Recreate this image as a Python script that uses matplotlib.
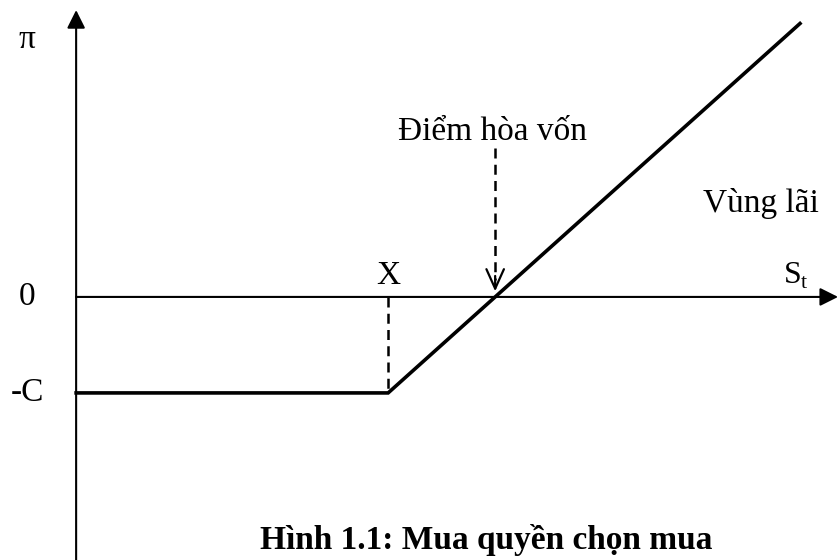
import numpy as np
import matplotlib
matplotlib.use("Agg")
from matplotlib import pyplot as plt

# payoff of a long call (drawing units)
strike = 10.0
premium = 3.43
s_max = 23.2
s_vals = [0.0, strike, s_max]
profit = [-premium, -premium, s_max - strike - premium]
breakeven = strike + premium

y_labels = ["0", "-C"]
y_label_vals = [0.0, -premium]

plt.rcParams['font.family'] = ['Liberation Serif', 'DejaVu Serif']

fig = plt.figure(figsize=(8.39, 5.6), dpi=100)
ax = fig.add_axes([0, 0, 1, 1])
ax.set_xlim(-2.44, 24.45)
ax.set_ylim(-9.40, 10.61)
ax.axis('off')

ahead = dict(arrowstyle='-|>,head_length=1.0,head_width=0.5', mutation_scale=11,
             color='black', lw=1.5, shrinkA=0, shrinkB=0)
# axes
ax.annotate('', xy=(0, 10.25), xytext=(0, -9.40), arrowprops=ahead)
ax.annotate('', xy=(24.42, 0), xytext=(0, 0), arrowprops=ahead)

# payoff
ax.plot(s_vals, profit, color='black', lw=2.6, solid_joinstyle='miter')

# dashed guides
ax.plot([strike, strike], [0, -premium], color='black', lw=1.8, ls=(0, (4, 2.5)))
ax.plot([breakeven, breakeven], [5.32, 0.6], color='black', lw=1.8, ls=(0, (4, 2.5)))
ax.annotate('', xy=(breakeven, 0.2), xytext=(breakeven, 0.75),
            arrowprops=dict(arrowstyle='->,head_length=1.0,head_width=0.45', mutation_scale=14,
                            color='black', lw=1.6, shrinkA=0, shrinkB=0))

# labels
ax.text(-1.57, 9.2, "π", fontsize=24, ha='center', va='center')
for lab, v in zip(y_labels, y_label_vals):
    ax.text(-1.57, v, lab, fontsize=24, ha='center', va='center')
ax.text(strike, 0.45, "X", fontsize=24, ha='center', va='baseline')
ax.text(22.69, 0.5, "S", fontsize=23, ha='left', va='baseline')
ax.text(23.22, 0.32, "t", fontsize=16, ha='left', va='baseline')
ax.text(10.3, 5.6, "Điểm hòa vốn", fontsize=24, ha='left', va='baseline')
ax.text(23.8, 3.03, "Vùng lãi", fontsize=24, ha='right', va='baseline')
ax.text(5.9, -9.0, "Hình 1.1: Mua quyền chọn mua", fontsize=24, fontweight='bold',
        ha='left', va='baseline')

fig.savefig("out.png", dpi=100)
